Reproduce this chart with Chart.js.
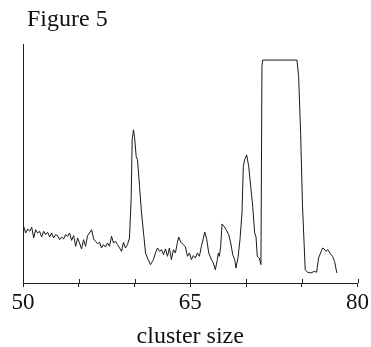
<!DOCTYPE html>
<html>
<head>
<meta charset="utf-8">
<script src="https://cdn.jsdelivr.net/npm/chart.js@4/dist/chart.umd.min.js"></script>
<style>
  html, body { margin: 0; padding: 0; background: #fff; }
  #fig5 { display: block; }
</style>
</head>
<body>
<canvas id="fig5" width="371" height="347"></canvas>
<script>
// values (y axis has no scale, so arbitrary units 0-100)
const clusterSize = [
  50.06, 50.24, 50.42, 50.60, 50.78, 50.96, 51.13, 51.31, 51.49, 51.67,
  51.85, 52.03, 52.21, 52.39, 52.57, 52.75, 52.93, 53.10, 53.28, 53.46,
  53.64, 53.82, 54.00, 54.18, 54.36, 54.54, 54.72, 54.90, 55.07, 55.25,
  55.43, 55.61, 55.79, 55.97, 56.15, 56.33, 56.51, 56.69, 56.87, 57.04,
  57.22, 57.40, 57.58, 57.76, 57.94, 58.12, 58.30, 58.48, 58.66, 58.84,
  59.01, 59.19, 59.37, 59.55, 59.70, 59.79, 59.91, 60.00, 60.15, 60.27,
  60.45, 60.63, 60.81, 60.99, 61.16, 61.43, 61.70, 61.88, 62.06, 62.24,
  62.42, 62.60, 62.78, 62.96, 63.13, 63.31, 63.49, 63.67, 63.85, 63.97,
  64.15, 64.39, 64.57, 64.75, 64.93, 65.10, 65.28, 65.46, 65.64, 65.82,
  66.00, 66.18, 66.30, 66.48, 66.66, 66.90, 67.07, 67.25, 67.43, 67.52,
  67.61, 67.73, 67.85, 68.03, 68.21, 68.45, 68.63, 68.81, 68.99, 69.10,
  69.28, 69.46, 69.64, 69.76, 69.88, 70.06, 70.24, 70.42, 70.60, 70.78,
  70.90, 71.01, 71.19, 71.34, 71.43, 71.49, 74.57, 74.72, 74.90, 75.07,
  75.31, 75.52, 75.82, 76.12, 76.33, 76.51, 76.69, 76.87, 77.01, 77.16,
  77.34, 77.52, 77.76, 77.94, 78.15
];
const response = [
  23.8, 21.0, 22.7, 21.7, 23.4, 18.9, 22.4, 21.0, 21.7, 19.3,
  21.7, 20.3, 21.3, 19.3, 21.0, 18.9, 20.3, 19.9, 18.2, 19.3,
  18.5, 20.3, 19.6, 21.0, 17.9, 19.9, 15.4, 18.9, 16.8, 14.3,
  18.2, 15.4, 19.9, 21.0, 22.4, 18.5, 17.5, 16.5, 17.1, 14.7,
  16.1, 15.1, 16.8, 15.4, 19.6, 16.8, 17.5, 16.1, 14.7, 13.3,
  17.1, 14.7, 16.1, 18.9, 35.0, 60.1, 64.3, 61.5, 53.1, 51.7,
  40.6, 29.4, 21.0, 12.6, 10.5, 7.7, 9.8, 12.6, 14.7, 13.3,
  14.0, 11.9, 14.3, 11.2, 14.7, 9.8, 14.0, 12.6, 17.1, 19.3,
  17.1, 16.1, 15.1, 11.2, 12.6, 9.8, 11.5, 10.5, 12.6, 11.2,
  15.4, 18.9, 21.4, 18.2, 12.6, 9.8, 8.4, 5.6, 9.8, 12.6,
  11.2, 15.4, 24.8, 23.8, 22.4, 20.3, 16.8, 11.9, 9.8, 6.3,
  10.5, 18.2, 29.4, 49.0, 51.7, 53.8, 49.0, 40.6, 32.2, 21.0,
  19.3, 11.2, 10.5, 7.7, 90.9, 93.6, 93.6, 86.7, 62.9, 32.2,
  5.6, 4.5, 4.2, 4.9, 4.5, 10.5, 12.6, 14.7, 14.3, 13.3,
  14.0, 12.6, 11.2, 9.1, 4.2
];
const labelledTicks = [50, 65, 80];

Chart.defaults.font.family = "'Liberation Serif', 'DejaVu Serif', serif";
Chart.defaults.color = '#111';

// ticks in the figure cross the axis line, chart.js only draws the lower half
const crossTicks = {
  id: 'crossTicks',
  afterLayout(chart) {
    // title sits a little in from the y axis in the original
    if (chart.titleBlock) chart.titleBlock.left = chart.chartArea.left + 4;
  },
  afterDraw(chart) {
    const xs = chart.scales.x;
    const c = chart.ctx;
    c.save();
    c.strokeStyle = '#222';
    c.lineWidth = 1;
    xs.ticks.forEach(t => {
      const px = Math.round(xs.getPixelForValue(t.value)) + 0.5;
      c.beginPath();
      c.moveTo(px, xs.top - 4);
      c.lineTo(px, xs.top);
      c.stroke();
    });
    c.restore();
  }
};

new Chart(document.getElementById('fig5'), {
  type: 'line',
  data: {
    datasets: [{
      data: clusterSize.map((x, i) => ({ x, y: response[i] })),
      borderColor: '#1a1a1a',
      borderWidth: 1,
      pointRadius: 0,
      tension: 0,
      fill: false
    }]
  },
  options: {
    responsive: false,
    animation: false,
    layout: { padding: { left: 0, right: 1, top: 0, bottom: 0 } },
    plugins: {
      legend: { display: false },
      tooltip: { enabled: false },
      title: {
        display: true,
        text: 'Figure 5',
        align: 'start',
        fullSize: false,
        color: '#111',
        font: { size: 24, weight: 'normal' },
        padding: { top: 5, bottom: 11 }
      }
    },
    scales: {
      x: {
        type: 'linear',
        min: 50,
        max: 80,
        afterFit(s) { s.height = 64; },
        ticks: {
          stepSize: 5,
          autoSkip: false,
          maxRotation: 0,
          padding: 2,
          color: '#111',
          font: { size: 23 },
          callback: v => labelledTicks.includes(v) ? String(v) : ''
        },
        grid: {
          display: true,
          drawOnChartArea: false,
          drawTicks: true,
          tickLength: 4,
          color: '#222'
        },
        border: { display: true, color: '#222', width: 1 },
        title: {
          display: true,
          text: 'cluster size',
          color: '#111',
          font: { size: 24 },
          padding: { top: 0, bottom: -4 }
        }
      },
      y: {
        min: 0,
        max: 100,
        afterFit(s) { s.width = 23; },
        ticks: { display: false },
        grid: { display: false },
        border: { display: true, color: '#222', width: 1 }
      }
    }
  },
  plugins: [crossTicks]
});
</script>
</body>
</html>
